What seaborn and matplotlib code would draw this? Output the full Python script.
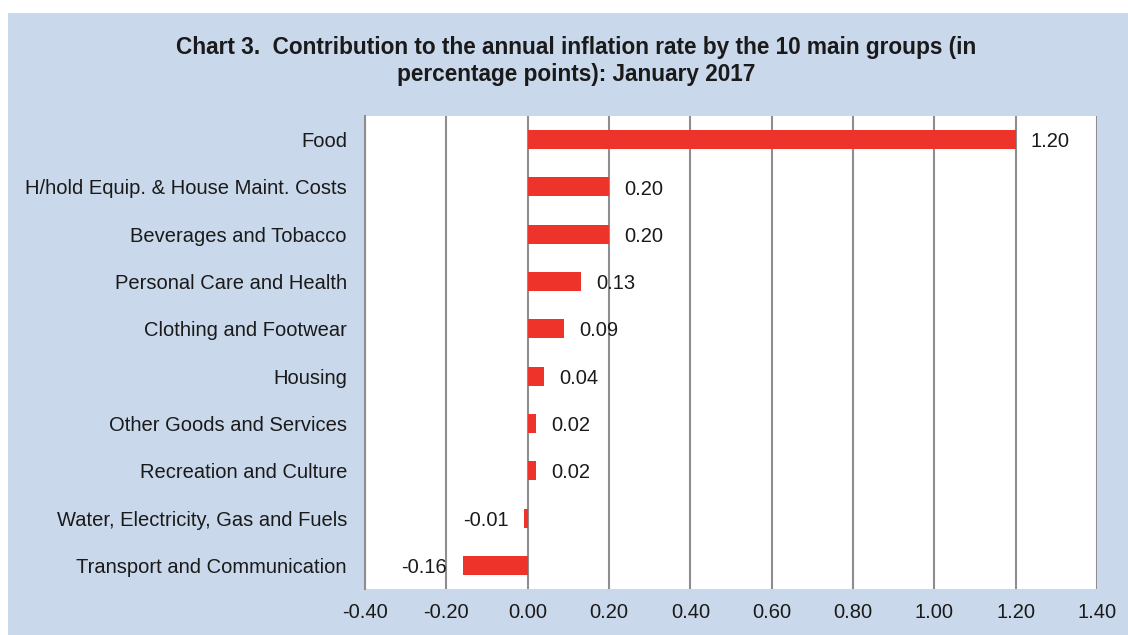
import matplotlib
matplotlib.use('Agg')
import matplotlib.pyplot as plt
import matplotlib.patches as mpatches
import seaborn as sns
import pandas as pd

# data
groups = [
    'Food',
    'H/hold Equip. & House Maint. Costs',
    'Beverages and Tobacco',
    'Personal Care and Health',
    'Clothing and Footwear',
    'Housing',
    'Other Goods and Services',
    'Recreation and Culture',
    'Water, Electricity, Gas and Fuels',
    'Transport and Communication',
]
contrib = [1.20, 0.20, 0.20, 0.13, 0.09, 0.04, 0.02, 0.02, -0.01, -0.16]
xticks = [-0.40, -0.20, 0.00, 0.20, 0.40, 0.60, 0.80, 1.00, 1.20, 1.40]

df = pd.DataFrame({'group': groups, 'value': contrib})

BG = '#c9d8ea'
RED = '#ee332b'
GRID = '#8e8e92'
TXT = '#1a1a1a'

sns.set_style('white')
plt.rcParams['font.family'] = ['Liberation Sans', 'DejaVu Sans']

fig = plt.figure(figsize=(11.28, 6.35), dpi=100)
fig.patch.set_facecolor('white')
# blue panel with thin white margin at top/left
fig.patches.append(mpatches.Rectangle((8 / 1128, 0), 1 - 8 / 1128, (635 - 13) / 635,
                                      transform=fig.transFigure, facecolor=BG,
                                      edgecolor='none', zorder=-10))

ax = fig.add_axes([365 / 1128, 46 / 635, 732 / 1128, 473 / 635])
sns.barplot(data=df, x='value', y='group', orient='h', color=RED,
            width=0.4, saturation=1, linewidth=0, ax=ax, zorder=3)

ax.set_xlim(-0.40, 1.40)
ax.set_xticks(xticks)
ax.set_xticklabels([f'{t:.2f}' for t in xticks])
ax.set_ylim(9.5, -0.5)
ax.grid(axis='x', color=GRID, linewidth=1.5, zorder=0)
ax.grid(axis='y', visible=False)
for side in ['top', 'bottom', 'right']:
    ax.spines[side].set_visible(False)
ax.spines['left'].set_color(GRID)
ax.spines['left'].set_linewidth(1.5)
ax.set_facecolor('white')
ax.set_xlabel('')
ax.set_ylabel('')
ax.tick_params(axis='both', length=0, labelsize=14.5, colors=TXT)
ax.tick_params(axis='x', pad=10)
ax.tick_params(axis='y', pad=13)

# value labels, nudged down a touch so they sit level with the bars
for cont in ax.containers:
    texts = ax.bar_label(cont, labels=[f'{v:.2f}' for v in contrib], padding=11,
                         fontsize=14.5, color=TXT)
    for t in texts:
        dx, dy = t.xyann
        t.xyann = (dx, dy - 1.5)

fig.text(576 / 1128, 1 - 61 / 635,
         'Chart 3.  Contribution to the annual inflation rate by the 10 main groups (in\n'
         'percentage points): January 2017', ha='center', va='center',
         fontsize=16.3, fontweight='bold', color=TXT, linespacing=1.2)

fig.savefig('out.png', dpi=100, facecolor=fig.get_facecolor())
